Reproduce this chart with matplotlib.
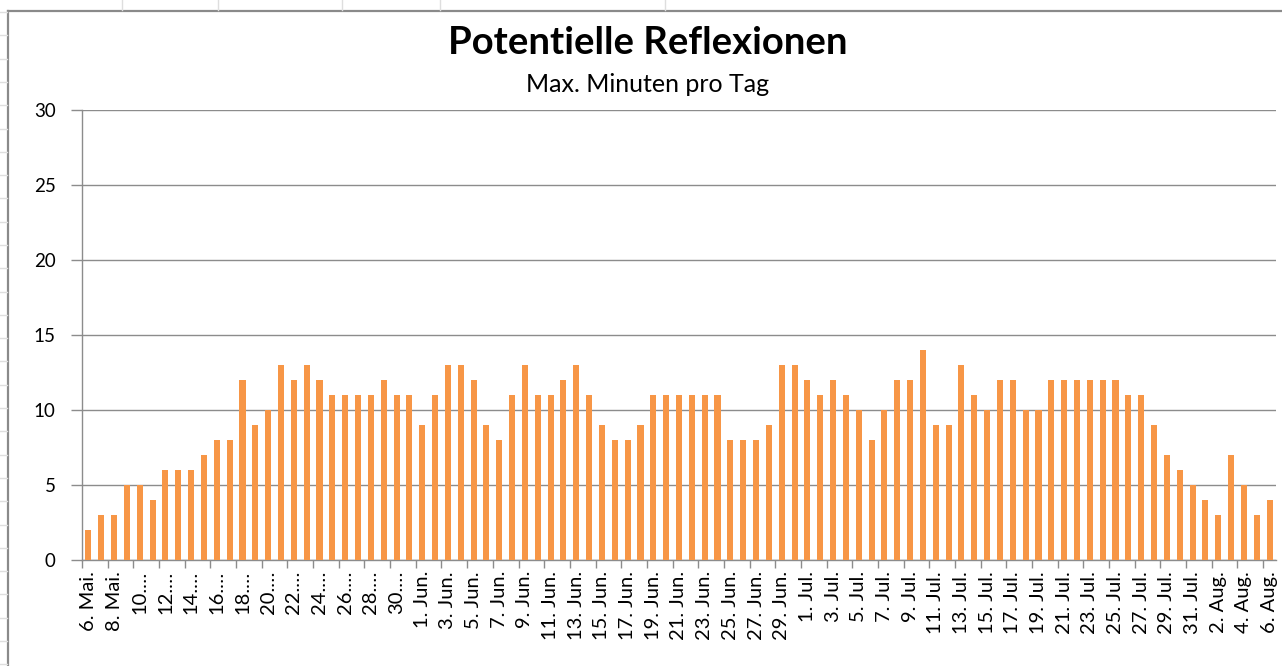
import matplotlib
matplotlib.use("Agg")
import matplotlib.pyplot as plt
from matplotlib.lines import Line2D
import numpy as np
import datetime as dt

plt.rcParams['font.family'] = ['Lato', 'DejaVu Sans']

# ---- data ----
mai_values = [2, 3, 3, 5, 5, 4, 6, 6, 6, 7, 8, 8, 12, 9, 10, 13, 12, 13, 12, 11, 11, 11, 11, 12, 11, 11]
jun_values = [9, 11, 13, 13, 12, 9, 8, 11, 13, 11, 11, 12, 13, 11, 9, 8, 8, 9, 11, 11, 11, 11, 11, 11, 8, 8, 8, 9, 13, 13]
jul_values = [12, 11, 12, 11, 10, 8, 10, 12, 12, 14, 9, 9, 13, 11, 10, 12, 12, 10, 10, 12, 12, 12, 12, 12, 12, 11, 11, 9, 7, 6, 5]
aug_values = [4, 3, 7, 5, 3, 4]
values = mai_values + jun_values + jul_values + aug_values

start = dt.date(2020, 5, 6)
categories = [start + dt.timedelta(days=i) for i in range(len(values))]

tick_labels = ["6. Mai.", "8. Mai.", "10.…", "12.…", "14.…", "16.…", "18.…", "20.…", "22.…",
               "24.…", "26.…", "28.…", "30.…",
               "1. Jun.", "3. Jun.", "5. Jun.", "7. Jun.", "9. Jun.", "11. Jun.", "13. Jun.",
               "15. Jun.", "17. Jun.", "19. Jun.", "21. Jun.", "23. Jun.", "25. Jun.", "27. Jun.",
               "29. Jun.",
               "1. Jul.", "3. Jul.", "5. Jul.", "7. Jul.", "9. Jul.", "11. Jul.", "13. Jul.",
               "15. Jul.", "17. Jul.", "19. Jul.", "21. Jul.", "23. Jul.", "25. Jul.", "27. Jul.",
               "29. Jul.", "31. Jul.",
               "2. Aug.", "4. Aug.", "6. Aug."]

title = "Potentielle Reflexionen"
subtitle = "Max. Minuten pro Tag"

# ---- figure ----
W, H = 1282, 666
fig = plt.figure(figsize=(W / 100, H / 100), dpi=100)
fig.patch.set_facecolor("white")

def fx(px):
    return px / W

def fy(py):
    return 1 - py / H

ax = fig.add_axes([fx(82), fy(560), fx(1276) - fx(82), fy(110) - fy(560)])

x = np.arange(len(values))
ax.bar(x, values, width=0.47, color="#F79646", zorder=3)

ax.set_xlim(-0.5, len(values) - 0.5)
ax.set_ylim(0, 30)
ax.set_yticks([0, 5, 10, 15, 20, 25, 30])
ax.yaxis.grid(True, color="#8c8c8c", linewidth=1.0, zorder=0)
ax.set_axisbelow(True)

# x labels every other category, tick marks at category boundaries
ax.set_xticks(x[::2])
ax.set_xticklabels(tick_labels, rotation=90, fontsize=14.5, va="top", ha="center")
ax.set_xticks(np.arange(-0.5, len(values), 2), minor=True)
ax.tick_params(axis="x", which="major", length=0, pad=8)
ax.tick_params(axis="x", which="minor", length=6, color="#8c8c8c", width=1)
ax.tick_params(axis="y", which="major", length=8, color="#8c8c8c", width=1, pad=11, labelsize=13.5)

for s in ["top", "right"]:
    ax.spines[s].set_visible(False)
for s in ["left", "bottom"]:
    ax.spines[s].set_color("#8c8c8c")
    ax.spines[s].set_linewidth(1.0)

# titles
fig.text(fx(648), fy(43), title, ha="center", va="center", fontsize=27.5, fontweight="bold")
fig.text(fx(648), fy(85), subtitle, ha="center", va="center", fontsize=18)

# chart frame (Excel chart area border)
fig.add_artist(Line2D([fx(8), fx(8)], [fy(11), 0], color="#8a8a8a", linewidth=1.6))
fig.add_artist(Line2D([fx(8), 1], [fy(11), fy(11)], color="#8a8a8a", linewidth=1.6))

# faint spreadsheet grid remnants outside chart
for yy in np.arange(12, H, 23.3):
    fig.add_artist(Line2D([0, fx(7)], [fy(yy), fy(yy)], color="#dedede", linewidth=1))
for xx in [122, 218, 342, 440, 665]:
    fig.add_artist(Line2D([fx(xx), fx(xx)], [1, fy(10)], color="#dedede", linewidth=1))

fig.savefig("out.png", dpi=100, facecolor="white")
